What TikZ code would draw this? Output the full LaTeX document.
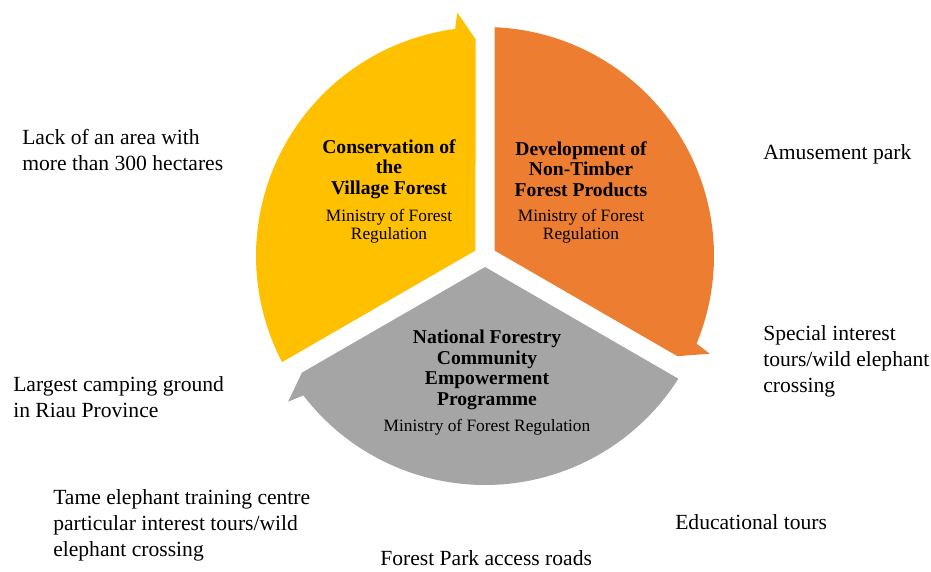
\documentclass[tikz,border=0pt]{standalone}
\usepackage{fontspec}
\setmainfont{Liberation Serif}
\definecolor{segyellow}{HTML}{FFC000}
\definecolor{segorange}{HTML}{ED7D31}
\definecolor{seggray}{HTML}{A5A5A5}
\begin{document}
\begin{tikzpicture}[x=0.75pt,y=0.75pt,
  note/.style={anchor=west,align=left,inner sep=0pt,font=\fontsize{16.2}{19.5}\selectfont},
  head/.style={align=center,inner sep=0pt,font=\fontsize{14.7}{15.5}\selectfont\bfseries},
  org/.style={align=center,inner sep=0pt,font=\fontsize{13}{13.5}\selectfont}]
\useasboundingbox (-485,-315) rectangle (446,256);

\fill[segyellow] (150:11) -- (207.6:229) arc[start angle=207.6, end angle=97.5, radius=229]
  -- (96.5:245) -- (92.5:217) -- cycle;
\fill[segorange] (30:11) -- (87.6:229) arc[start angle=87.6, end angle=-22.5, radius=229]
  -- (-23.5:245) -- (-27.5:217) -- cycle;
\fill[seggray] (-90:11) -- (-32.4:229) arc[start angle=-32.4, end angle=-142.5, radius=229]
  -- (-143.5:245) -- (-147.5:217) -- cycle;

\node[head] (villagehead) at (-96,87) {Conservation of\\the\\Village Forest};
\node[org] (villageorg) at (-96,30) {Ministry of Forest\\Regulation};
\node[head] (ntfphead) at (96,87) {Development of\\Non-Timber\\Forest Products};
\node[org] (ntfporg) at (96,30) {Ministry of Forest\\Regulation};
\node[head] (empowerhead) at (2,-114) {National Forestry\\Community\\Empowerment\\Programme};
\node[org] (empowerorg) at (2,-171) {Ministry of Forest Regulation};

\node[note] (area) at (-463,106) {Lack of an area with\\more than 300 hectares};
\node[note] (camping) at (-472,-141) {Largest camping ground\\in Riau Province};
\node[note] (training) at (-432,-269) {Tame elephant training centre\\particular interest tours/wild\\elephant crossing};
\node[note] (roads) at (-105,-302) {Forest Park access roads};
\node[note] (educational) at (190,-266) {Educational tours};
\node[note] (special) at (278,-105) {Special interest\\tours/wild elephant\\crossing};
\node[note] (amusement) at (278,102) {Amusement park};

\end{tikzpicture}
\end{document}
